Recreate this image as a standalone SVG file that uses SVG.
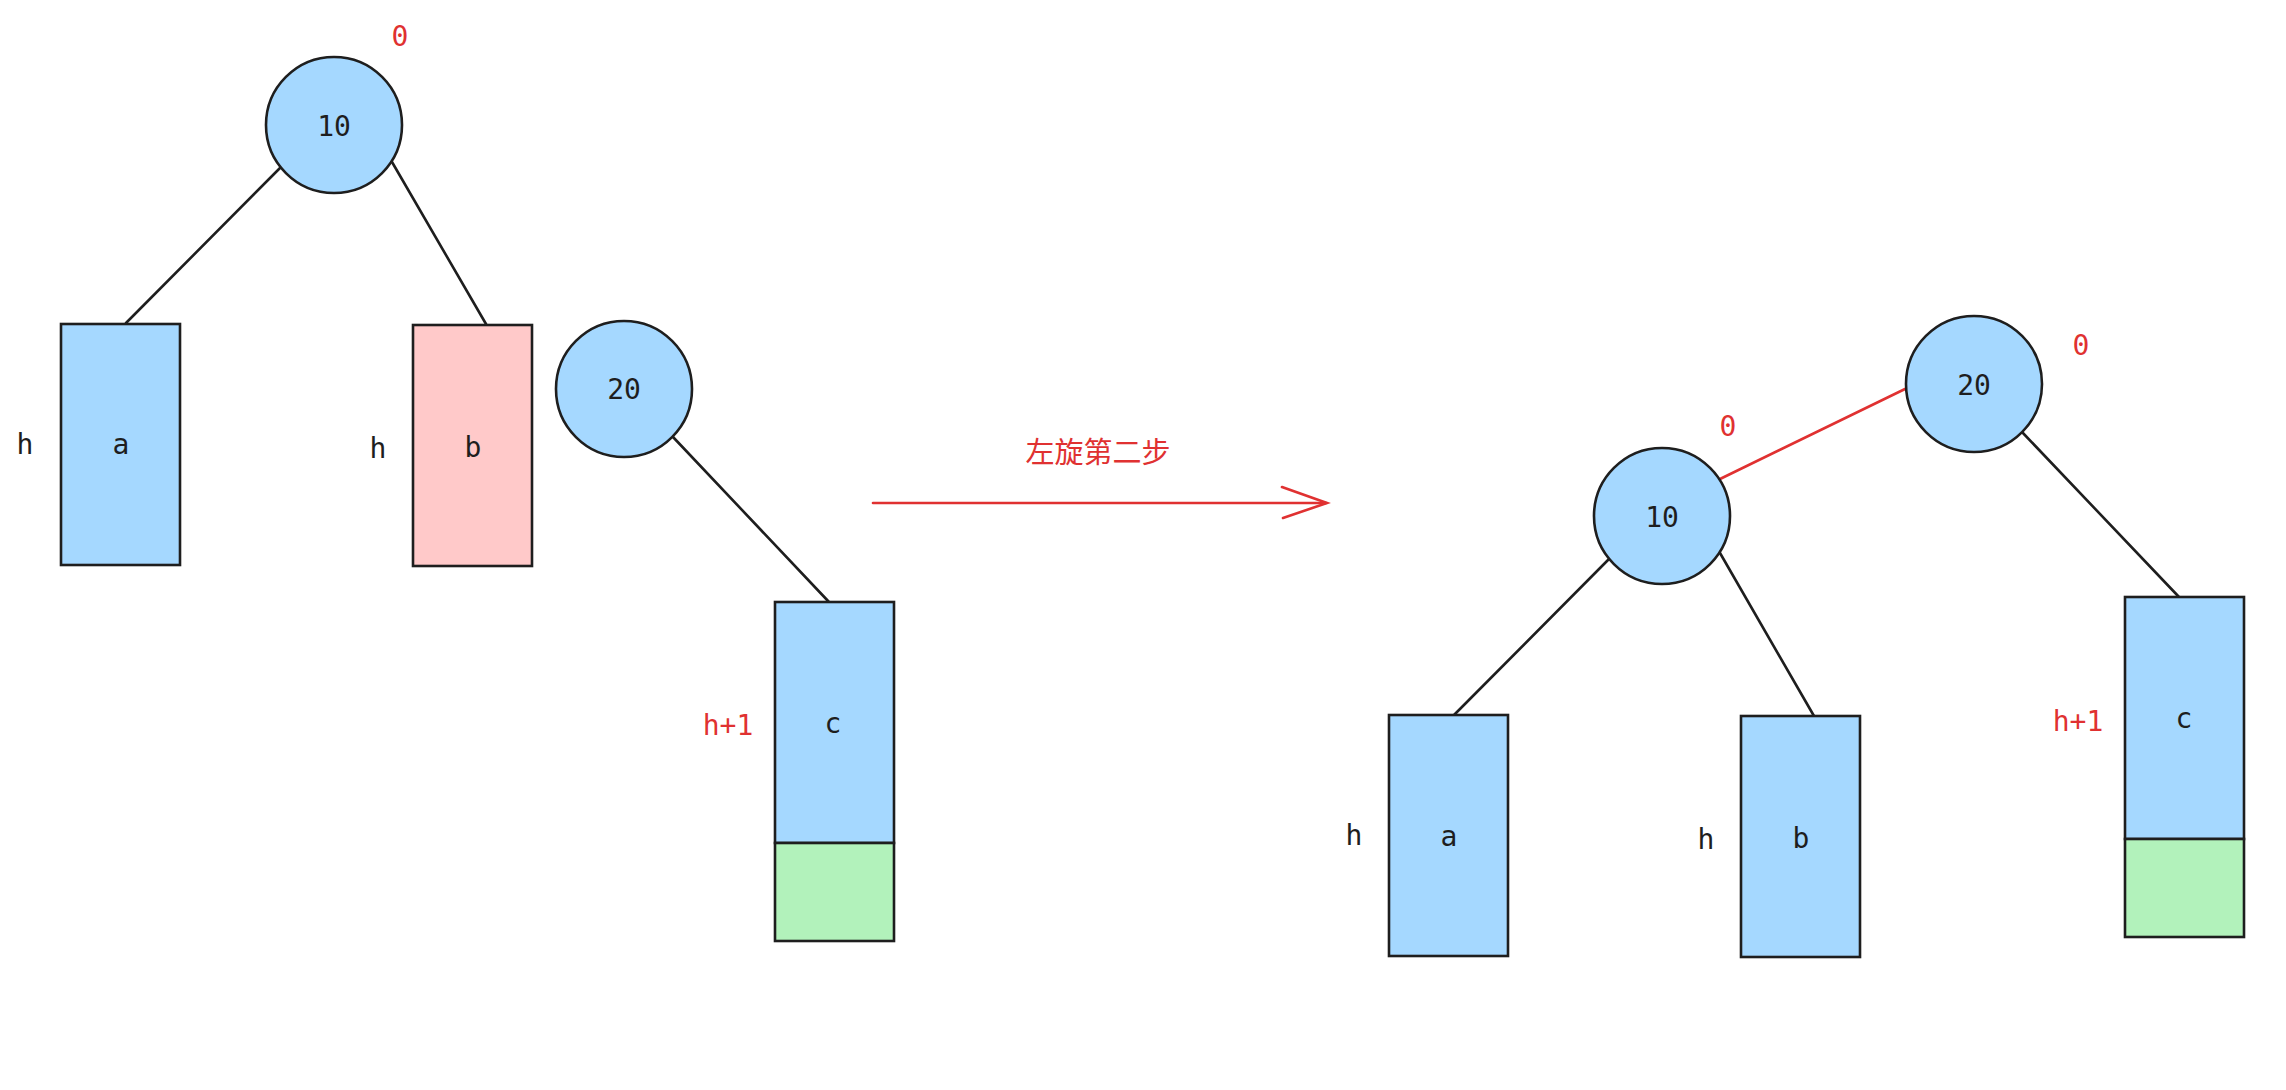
<svg xmlns="http://www.w3.org/2000/svg" width="2286" height="1090" viewBox="0 0 2286 1090">
<style>
.bg{fill:#ffffff}
.node{stroke:#1e1e1e;stroke-width:2.6}
.blue{fill:#a5d8ff}
.pink{fill:#ffc9c9}
.green{fill:#b2f2bb}
.edge{stroke:#1e1e1e;stroke-width:2.6;fill:none;stroke-linecap:round}
.red{stroke:#e03131}
.t{font-family:"DejaVu Sans Mono","Liberation Mono",monospace;font-size:28px;fill:#1e1e1e;text-anchor:middle}
.tr{fill:#e03131}
.cn{font-family:"Noto Sans CJK SC","Noto Sans",sans-serif;font-size:29px;fill:#e03131;text-anchor:middle}
</style>
<rect class="bg" x="0" y="0" width="2286" height="1090"/>
<g id="connectors">
  <line class="edge" x1="280" y1="168" x2="126" y2="323"/>
  <line class="edge" x1="392" y1="162" x2="486" y2="324"/>
  <line class="edge" x1="673" y1="437" x2="829" y2="602"/>
  <line class="edge" x1="1608" y1="560" x2="1454" y2="715"/>
  <line class="edge" x1="1720" y1="553" x2="1814" y2="716"/>
  <line class="edge red" x1="1720" y1="479" x2="1905" y2="389"/>
  <line class="edge" x1="2022" y1="432" x2="2179" y2="597"/>
  <g id="arrow">
    <line class="edge red" x1="873" y1="503" x2="1326" y2="503"/>
    <polyline class="edge red" points="1282,487 1327,503 1283,518"/>
  </g>
</g>
<g id="L-n10">
  <circle class="node blue" cx="334" cy="125" r="68"/>
  <text class="t" x="334" y="136">10</text>
</g>
<text class="t tr" x="400" y="46">0</text>
<g id="L-a">
  <rect class="node blue" x="61" y="324" width="119" height="241"/>
  <text class="t" x="121" y="454">a</text>
</g>
<text class="t" x="25" y="454">h</text>
<g id="L-b">
  <rect class="node pink" x="413" y="325" width="119" height="241"/>
  <text class="t" x="473" y="457">b</text>
</g>
<text class="t" x="378" y="458">h</text>
<g id="L-n20">
  <circle class="node blue" cx="624" cy="389" r="68"/>
  <text class="t" x="624" y="399">20</text>
</g>
<g id="L-c">
  <rect class="node blue" x="775" y="602" width="119" height="241"/>
  <rect class="node green" x="775" y="843" width="119" height="98"/>
  <text class="t" x="833" y="733">c</text>
</g>
<text class="t tr" x="728" y="735">h+1</text>
<text class="cn" x="1098" y="463">左旋第二步</text>
<g id="R-n10">
  <circle class="node blue" cx="1662" cy="516" r="68"/>
  <text class="t" x="1662" y="527">10</text>
</g>
<text class="t tr" x="1728" y="436">0</text>
<g id="R-n20">
  <circle class="node blue" cx="1974" cy="384" r="68"/>
  <text class="t" x="1974" y="395">20</text>
</g>
<text class="t tr" x="2081" y="355">0</text>
<g id="R-a">
  <rect class="node blue" x="1389" y="715" width="119" height="241"/>
  <text class="t" x="1449" y="846">a</text>
</g>
<text class="t" x="1354" y="845">h</text>
<g id="R-b">
  <rect class="node blue" x="1741" y="716" width="119" height="241"/>
  <text class="t" x="1801" y="848">b</text>
</g>
<text class="t" x="1706" y="849">h</text>
<g id="R-c">
  <rect class="node blue" x="2125" y="597" width="119" height="242"/>
  <rect class="node green" x="2125" y="839" width="119" height="98"/>
  <text class="t" x="2184" y="728">c</text>
</g>
<text class="t tr" x="2078" y="731">h+1</text>
</svg>
